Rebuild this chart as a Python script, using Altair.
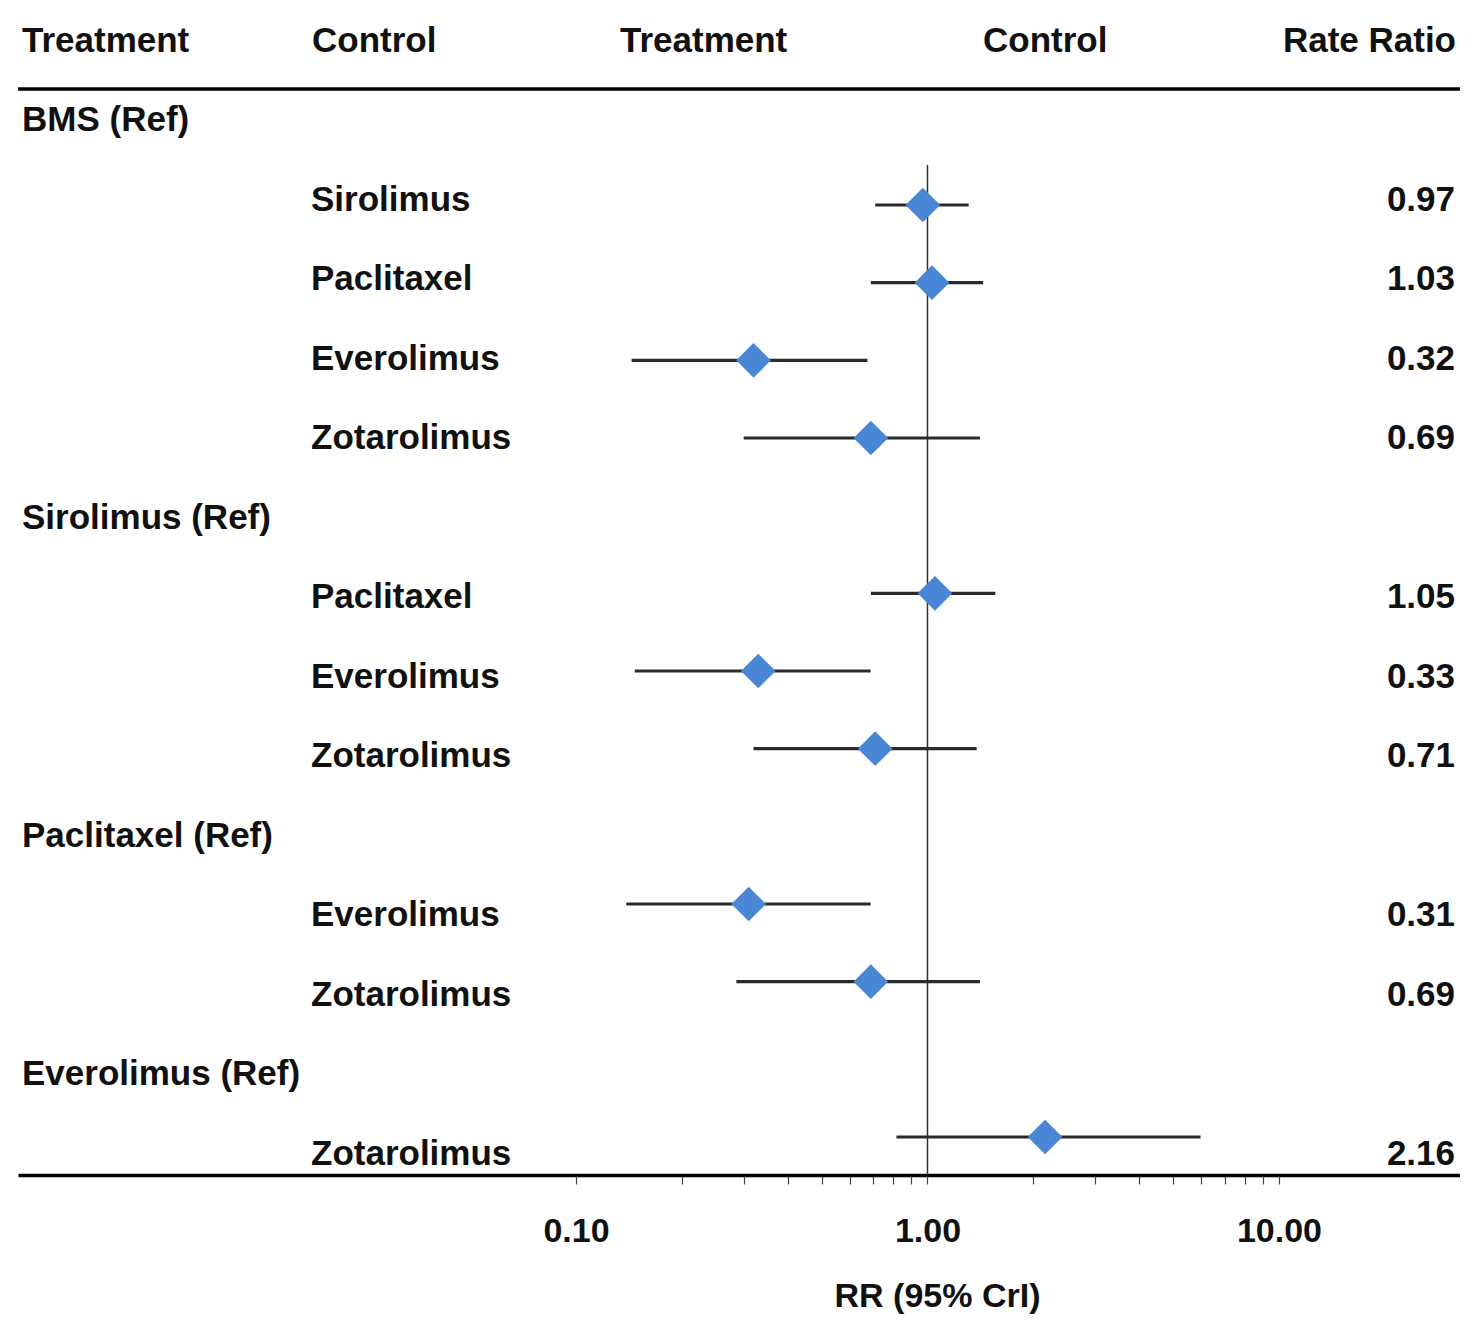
import altair as alt
import pandas as pd

# ---- data ----
row_labels = ["BMS (Ref)", "Sirolimus", "Paclitaxel", "Everolimus", "Zotarolimus",
              "Sirolimus (Ref)", "Paclitaxel", "Everolimus", "Zotarolimus",
              "Paclitaxel (Ref)", "Everolimus", "Zotarolimus",
              "Everolimus (Ref)", "Zotarolimus"]
is_reference = [True, False, False, False, False,
                True, False, False, False,
                True, False, False,
                True, False]
rate_ratio = [None, 0.97, 1.03, 0.32, 0.69, None, 1.05, 0.33, 0.71, None, 0.31, 0.69, None, 2.16]
ci_low = [None, 0.71, 0.69, 0.144, 0.30, None, 0.69, 0.147, 0.32, None, 0.139, 0.286, None, 0.816]
ci_high = [None, 1.31, 1.44, 0.675, 1.41, None, 1.56, 0.689, 1.38, None, 0.689, 1.41, None, 5.98]
header_labels = ["Treatment", "Control", "Treatment", "Control", "Rate Ratio"]
tick_values = [0.1, 0.2, 0.3, 0.4, 0.5, 0.6, 0.7, 0.8, 0.9, 1, 2, 3, 4, 5, 6, 7, 8, 9, 10]
no_effect = [1.0]
axis_title = "RR (95% CrI)"

rows = pd.DataFrame({
    "row": list(range(len(row_labels))),
    "label": row_labels,
    "ref": is_reference,
    "rr": rate_ratio,
    "lo": ci_low,
    "hi": ci_high,
})
est = rows.dropna(subset=["rr"]).reset_index(drop=True)
groups = rows[rows["ref"]].reset_index(drop=True)
items = rows[~rows["ref"]].reset_index(drop=True)

# ---- layout ----
W, H = 1442, 1167
FONT = "Liberation Sans"
FS = 35
TXT = "#111111"

x_scale = alt.Scale(type="log", domain=[0.002586, 32.73], nice=False)
x_axis = alt.Axis(
    values=tick_values,
    labelExpr="(datum.value == 0.1 || datum.value == 1 || datum.value == 10) ? format(datum.value, '.2f') : ''",
    title=axis_title,
    grid=False,
    domainColor="#000000", domainWidth=3.5,
    tickColor="#444444", tickWidth=1.2, tickSize=9,
    labelFont=FONT, labelFontWeight="bold", labelFontSize=34, labelColor=TXT,
    labelPadding=30, labelFlush=False, labelOverlap=False,
    titleFont=FONT, titleFontWeight="bold", titleFontSize=34, titleColor=TXT,
    titleX=919, titleY=121, titleAlign="center", titleBaseline="middle",
)

text_y_scale = alt.Scale(domain=[-1.4088, 13.270], reverse=True, nice=False, zero=False)
mark_y_scale = alt.Scale(domain=[-1.5364, 13.489], reverse=True, nice=False, zero=False)

def ty():
    return alt.Y("row:Q", scale=text_y_scale, axis=None)

def my():
    return alt.Y("row:Q", scale=mark_y_scale, axis=None)

# vertical no-effect line
ref_line = alt.Chart(pd.DataFrame({"v": no_effect})).mark_rule(
    color="#333333", strokeWidth=1.5
).encode(
    x=alt.X("v:Q", scale=x_scale, axis=x_axis),
    y=alt.value(157),
    y2=alt.value(H),
)

ci = alt.Chart(est).mark_rule(color="#2a2a2a", strokeWidth=3.2).encode(
    x=alt.X("lo:Q", scale=x_scale, axis=x_axis),
    x2="hi:Q",
    y=my(),
)

diamonds = alt.Chart(est).mark_point(
    shape="diamond", filled=True, size=1200, color="#4A86D6", opacity=1, strokeWidth=0
).encode(
    x=alt.X("rr:Q", scale=x_scale, axis=x_axis),
    y=my(),
)

text_kw = dict(font=FONT, fontWeight="bold", fontSize=FS, color=TXT, baseline="middle")

group_text = alt.Chart(groups).mark_text(align="left", **text_kw).encode(
    x=alt.value(4), y=ty(), text="label:N"
)
item_text = alt.Chart(items).mark_text(align="left", **text_kw).encode(
    x=alt.value(293), y=ty(), text="label:N"
)
value_text = alt.Chart(est).mark_text(align="right", **text_kw).encode(
    x=alt.value(1437), y=ty(), text=alt.Text("rr:Q", format=".2f")
)

header_x = [4, 294, 602, 965, 1438]
header_align = ["left", "left", "left", "left", "right"]
header_layers = []
for lab, hx, al in zip(header_labels, header_x, header_align):
    header_layers.append(
        alt.Chart(pd.DataFrame({"label": [lab], "row": [-1]})).mark_text(align=al, **text_kw).encode(
            x=alt.value(hx), y=ty(), text="label:N"
        )
    )

top_rule = alt.Chart(pd.DataFrame({"label": ["top"]})).mark_rule(
    color="#000000", strokeWidth=3.5
).encode(x=alt.value(0), x2=alt.value(W), y=alt.value(81))

chart = alt.layer(
    ref_line, ci, diamonds, group_text, item_text, value_text, *header_layers, top_rule
).resolve_scale(y="independent").properties(
    width=W, height=H,
    autosize=alt.AutoSizeParams(type="none"),
    padding={"left": 10, "top": 0, "right": 0, "bottom": 140},
    background="white",
).configure_view(strokeWidth=0)

chart.save("out.html", embed_options={"renderer": "svg", "actions": False})
